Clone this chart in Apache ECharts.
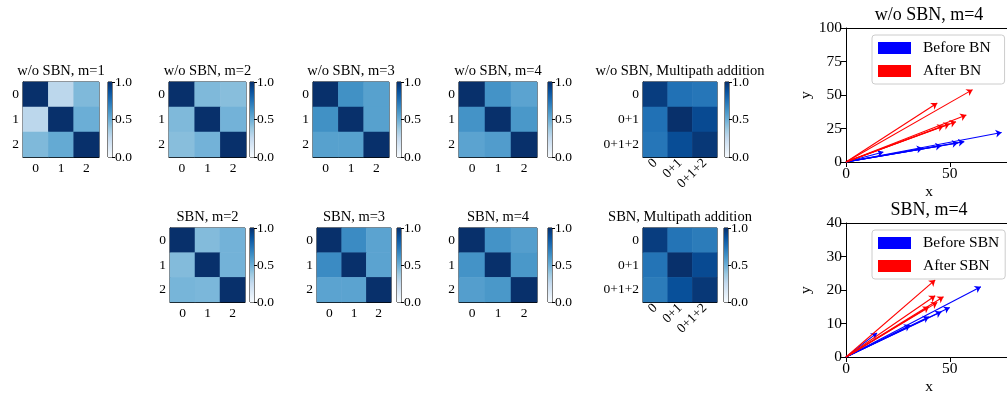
<!DOCTYPE html>
<html><head><meta charset="utf-8">
<script src="https://cdn.jsdelivr.net/npm/echarts@6/dist/echarts.min.js"></script>
<style>html,body{margin:0;padding:0;background:#fff}#c{width:1007px;height:394px}</style>
</head><body><div id="c"></div>
<script>
// ---- data ----
const cats = ['0', '1', '2'];
const catsMP = ['0', '0+1', '0+1+2'];
const cbTicks = [0, 0.5, 1];
const titlesTop = ['w/o SBN, m=1', 'w/o SBN, m=2', 'w/o SBN, m=3', 'w/o SBN, m=4', 'w/o SBN, Multipath addition'];
const titlesBottom = ['SBN, m=2', 'SBN, m=3', 'SBN, m=4', 'SBN, Multipath addition'];
const woM1 = [[1, 0.28, 0.45], [0.28, 1, 0.50], [0.45, 0.52, 1]];
const woM2 = [[1, 0.45, 0.43], [0.45, 1, 0.48], [0.43, 0.48, 1]];
const woM3 = [[1, 0.63, 0.56], [0.63, 1, 0.56], [0.56, 0.56, 1]];
const woM4 = [[1, 0.62, 0.55], [0.62, 1, 0.60], [0.55, 0.58, 1]];
const woMP = [[0.95, 0.75, 0.73], [0.75, 1, 0.90], [0.73, 0.89, 0.97]];
const sbnM2 = [[1, 0.44, 0.48], [0.44, 1, 0.48], [0.47, 0.46, 1]];
const sbnM3 = [[1, 0.65, 0.55], [0.65, 1, 0.55], [0.55, 0.55, 1]];
const sbnM4 = [[1, 0.62, 0.57], [0.62, 1, 0.60], [0.57, 0.60, 1]];
const sbnMP = [[0.95, 0.74, 0.71], [0.74, 1, 0.90], [0.71, 0.88, 0.97]];
const beforeBN = [[75, 22], [57, 15.2], [54, 14.3], [46, 12.2], [37, 10.2], [18, 7.5]];
const afterBN = [[61, 54], [44, 44], [58, 35], [53, 30], [50, 28.5], [47, 27]];
const beforeSBN = [[65, 21], [50, 14.8], [46, 13.5], [40, 12], [31, 9.5], [15, 7.2]];
const afterSBN = [[43, 23], [43, 18.3], [47, 18], [44, 16.3], [40, 15]];
const quiverTitles = ['w/o SBN, m=4', 'SBN, m=4'];
const xTicksQ = [0, 50];
const xMax = 80;
const yTicksTop = [0, 25, 50, 75, 100];
const yTicksBottom = [0, 10, 20, 30, 40];

// ---- styles ----
const FONT = 'Liberation Serif';
const blues = ['#f7fbff', '#deebf7', '#c6dbef', '#9ecae1', '#6baed6', '#4292c6', '#2171b5', '#08519c', '#08306b'];

const panels = [
  {t: titlesTop[0], m: woM1, c: cats, left: 23, top: 82, w: 76, h: 75, cb: 108},
  {t: titlesTop[1], m: woM2, c: cats, left: 169, top: 82, w: 77, h: 75, cb: 250},
  {t: titlesTop[2], m: woM3, c: cats, left: 313, top: 82, w: 76, h: 75, cb: 397},
  {t: titlesTop[3], m: woM4, c: cats, left: 459, top: 82, w: 78, h: 75, cb: 548},
  {t: titlesTop[4], m: woMP, c: catsMP, left: 643, top: 82, w: 74, h: 75, cb: 725, rot: 45},
  {t: titlesBottom[0], m: sbnM2, c: cats, left: 170, top: 228, w: 75, h: 74, cb: 250},
  {t: titlesBottom[1], m: sbnM3, c: cats, left: 317, top: 228, w: 74, h: 74, cb: 397},
  {t: titlesBottom[2], m: sbnM4, c: cats, left: 459, top: 228, w: 78, h: 74, cb: 548},
  {t: titlesBottom[3], m: sbnMP, c: catsMP, left: 643, top: 228, w: 74, h: 74, cb: 724, rot: 45}
];

const grid = [], xAxis = [], yAxis = [], series = [], title = [], heatIdx = [];
const black = '#000';
const lbl = (fs) => ({fontFamily: FONT, fontSize: fs, color: black});
const TK = 13.5;

panels.forEach(p => {
  const gi = grid.length;
  grid.push({left: p.left, top: p.top, width: p.w, height: p.h, show: true, borderColor: black, borderWidth: 1, outerBoundsMode: 'none'});
  xAxis.push({type: 'category', gridIndex: gi, data: p.c,
    axisLine: {lineStyle: {color: black}}, axisTick: {alignWithLabel: true, length: 4, lineStyle: {color: black}},
    axisLabel: Object.assign(lbl(TK), {margin: 4, rotate: p.rot || 0, interval: 0}), splitLine: {show: false}});
  yAxis.push({type: 'category', gridIndex: gi, data: p.c, inverse: true,
    axisLine: {lineStyle: {color: black}}, axisTick: {alignWithLabel: true, length: 4, lineStyle: {color: black}},
    axisLabel: Object.assign(lbl(TK), {margin: 4, interval: 0}), splitLine: {show: false}});
  const data = [];
  p.m.forEach((row, r) => row.forEach((v, c) => data.push([c, r, v])));
  heatIdx.push(series.length);
  series.push({type: 'heatmap', xAxisIndex: xAxis.length - 1, yAxisIndex: yAxis.length - 1, data, itemStyle: {borderWidth: 0}, emphasis: {disabled: true}, silent: true});
  title.push({text: p.t, left: p.left + p.w / 2, top: p.top - 18, textAlign: 'center',
    textStyle: {fontFamily: FONT, fontSize: 14.5, fontWeight: 'normal', color: black}, padding: 0});
  // colorbar
  const ci = grid.length;
  grid.push({left: p.cb, top: p.top, width: 4, height: p.h, show: true, borderColor: black, borderWidth: 1, outerBoundsMode: 'none'});
  xAxis.push({type: 'category', gridIndex: ci, data: [''], show: false});
  yAxis.push({type: 'value', gridIndex: ci, min: cbTicks[0], max: cbTicks[2], interval: cbTicks[1] - cbTicks[0], position: 'right',
    axisLine: {show: false}, axisTick: {show: true, length: 3, lineStyle: {color: black}},
    axisLabel: Object.assign(lbl(TK), {margin: 3, formatter: v => v.toFixed(1)}), splitLine: {show: false}});
  series.push({type: 'bar', xAxisIndex: xAxis.length - 1, yAxisIndex: yAxis.length - 1, data: [cbTicks[2]], barWidth: '100%', silent: true,
    itemStyle: {color: new echarts.graphic.LinearGradient(0, 1, 0, 0, blues.map((c, i) => ({offset: i / (blues.length - 1), color: c})))}});
});

// quiver panels
const quivers = [
  {t: quiverTitles[0], top: 28, ymax: yTicksTop[4], yint: yTicksTop[1], b: beforeBN, a: afterBN, bn: 'Before BN', an: 'After BN', lpad: [5, 14, 5, 6]},
  {t: quiverTitles[1], top: 223, ymax: yTicksBottom[4], yint: yTicksBottom[1], b: beforeSBN, a: afterSBN, bn: 'Before SBN', an: 'After SBN', lpad: [5, 6, 5, 6]}
];
const legend = [];
const xFmt = v => (xTicksQ.indexOf(v) >= 0 ? String(v) : '');
quivers.forEach(q => {
  const gi = grid.length;
  grid.push({left: 846, top: q.top, width: 166, height: 134, show: false, outerBoundsMode: 'none'});
  const xi = xAxis.length, yi = yAxis.length;
  xAxis.push({type: 'value', gridIndex: gi, min: xTicksQ[0], max: xMax, interval: xTicksQ[1] - xTicksQ[0],
    name: 'x', nameLocation: 'middle', nameGap: 22, nameTextStyle: lbl(15.5),
    axisLine: {lineStyle: {color: black}}, axisTick: {length: 5, lineStyle: {color: black}},
    axisLabel: Object.assign(lbl(15.5), {margin: 4, formatter: xFmt}), splitLine: {show: false}});
  xAxis.push({type: 'value', gridIndex: gi, position: 'top', min: xTicksQ[0], max: xMax,
    axisLine: {show: true, lineStyle: {color: black}}, axisTick: {show: false}, axisLabel: {show: false}, splitLine: {show: false}});
  yAxis.push({type: 'value', gridIndex: gi, min: 0, max: q.ymax, interval: q.yint,
    name: 'y', nameLocation: 'middle', nameGap: 32, nameRotate: 90, nameTextStyle: lbl(15.5),
    axisLine: {lineStyle: {color: black}}, axisTick: {length: 5, lineStyle: {color: black}},
    axisLabel: Object.assign(lbl(15.5), {margin: 4}), splitLine: {show: false}});
  [[q.bn, q.b, '#0000ff'], [q.an, q.a, '#ff0000']].forEach(([name, arr, col]) => {
    series.push({type: 'lines', name, coordinateSystem: 'cartesian2d', xAxisIndex: xi, yAxisIndex: yi,
      symbol: ['none', 'arrow'], symbolSize: 6, silent: true,
      lineStyle: {color: col, width: 1.1, opacity: 1}, itemStyle: {color: col},
      data: arr.map(pt => ({coords: [[0, 0], pt]}))});
  });
  title.push({text: q.t, left: 929, top: q.top - 22, textAlign: 'center',
    textStyle: {fontFamily: FONT, fontSize: 18, fontWeight: 'normal', color: black}, padding: 0});
  legend.push({data: [{name: q.bn, icon: 'rect', itemStyle: {color: '#0000ff'}}, {name: q.an, icon: 'rect', itemStyle: {color: '#ff0000'}}],
    orient: 'vertical', left: 872, top: q.top + 7, itemWidth: 31, itemHeight: 10, itemGap: 7, padding: q.lpad,
    backgroundColor: '#fff', borderColor: '#cccccc', borderWidth: 1, borderRadius: 3, selectedMode: false,
    textStyle: {fontFamily: FONT, fontSize: 15.5, color: black, padding: [0, 0, 0, 8]}});
});

const chart = echarts.init(document.getElementById('c'), null, {renderer: 'canvas'});
chart.setOption({
  animation: false,
  title, grid, xAxis, yAxis, legend, series,
  visualMap: {type: 'continuous', show: false, min: 0, max: 1, seriesIndex: heatIdx, inRange: {color: blues}}
});
</script></body></html>
